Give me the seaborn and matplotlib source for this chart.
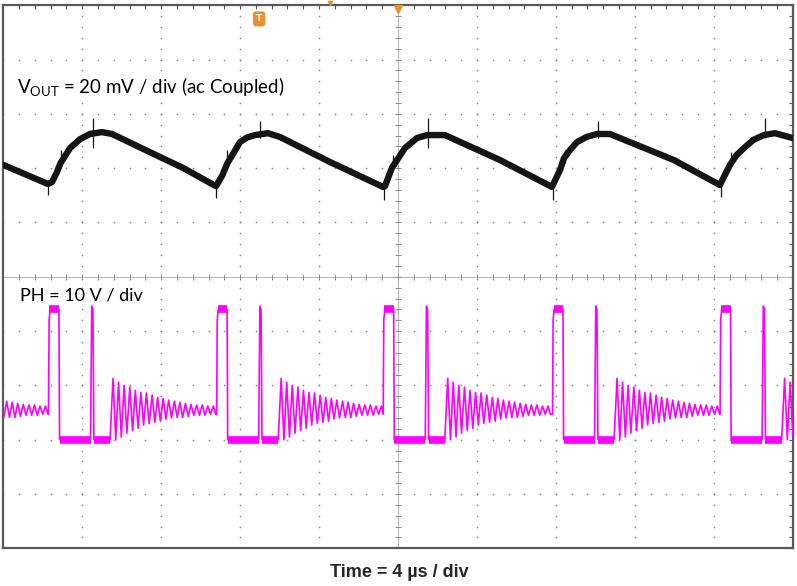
import matplotlib.pyplot as plt
import seaborn as sns
import numpy as np

# VOUT trace (ac coupled): time in us, voltage in mV
vout_t = [0.00, 2.26, 2.47, 2.72, 2.90, 3.13, 3.38, 3.89, 4.39, 5.00, 5.51, 7.43, 9.11,
          10.57, 10.78, 11.08, 11.36, 11.70, 11.99, 12.35, 12.75, 13.41, 14.02, 16.55,
          19.24, 19.34, 19.69, 20.35, 20.96, 21.47, 22.38, 25.17,
          27.80, 28.21, 28.41, 28.75, 29.07, 29.55, 30.08, 30.74, 31.75, 33.98,
          36.31, 36.82, 37.15, 37.53, 38.00, 38.54, 39.10, 40.00]
vout_mv = [-1.8, -8.8, -8.1, -4.4, -1.1, 1.5, 4.4, 7.7, 9.6, 10.3, 9.6, 2.9, -2.9,
           -8.8, -9.6, -5.9, -1.1, 3.0, 6.6, 8.3, 9.2, 9.9, 8.5, -0.7,
           -9.9, -9.6, -2.9, 4.4, 8.1, 9.2, 9.2, 0.0,
           -9.9, -3.7, 0.7, 4.0, 6.6, 8.5, 9.6, 9.6, 6.6, 0.0,
           -9.2, -1.8, 1.8, 4.4, 7.4, 9.2, 9.9, 8.1]

# switching spikes on VOUT
spike_t = [2.26, 2.90, 4.57, 10.80, 11.36, 13.03, 19.29, 19.75, 21.52,
           27.85, 28.44, 30.11, 36.37, 36.87, 38.59]
spike_lo = [-12.9, -2.0, 4.4, -14.0, -1.5, 8.0, -14.7, -2.0, 4.4,
            -14.7, -1.0, 8.0, -13.6, -1.5, 8.0]
spike_hi = [-8.0, 3.7, 15.5, -9.0, 3.7, 14.4, -9.0, 1.8, 15.5,
            -9.0, 3.7, 14.4, -9.0, 2.9, 15.5]

# PH node: rising edge times (us) of each switching cycle
ph_rise_us = [-6.21, 2.29, 10.81, 19.25, 27.83, 36.32]

# one switching cycle, offsets from the rising edge (us) and volts
pulse_off = [0.00, 0.03, 0.08, 0.53, 0.56, 2.13, 2.19, 2.25, 2.27, 2.30, 3.12]
pulse_v = [4.7, 22.0, 24.0, 24.0, 0.0, 0.0, 24.6, 24.0, 13.4, 0.0, 0.0]
ring_peak_off = [3.27, 3.55, 3.83, 4.12, 4.40, 4.68, 4.96, 5.25, 5.53, 5.81,
                 6.09, 6.38, 6.66, 6.94, 7.22, 7.51, 7.79, 8.07, 8.35]
ring_peak_v = [11.3, 10.6, 10.0, 9.7, 9.1, 8.7, 8.6, 8.2, 7.8, 7.6,
               7.3, 7.1, 6.9, 6.7, 6.5, 6.4, 6.4, 6.2, 6.2]
ring_trough_off = [3.41, 3.69, 3.97, 4.26, 4.54, 4.82, 5.10, 5.39, 5.67, 5.95,
                   6.23, 6.52, 6.80, 7.08, 7.36, 7.65, 7.93, 8.21, 8.47]
ring_trough_v = [0.0, 0.5, 1.2, 1.7, 2.1, 2.7, 3.0, 3.2, 3.4, 3.8,
                 4.0, 4.1, 4.1, 4.3, 4.5, 4.5, 4.5, 4.7, 4.7]
# flat (noisy) levels within a cycle
band_start = [0.05, 0.56, 2.30]
band_end = [0.53, 2.13, 3.12]
band_v = [24.0, 0.0, 0.0]

# scope settings
VOUT_MV_DIV = 20
PH_V_DIV = 10
VOUT_POS = 7.15
PH_POS = 2.0

sns.set_style('white')
plt.rcParams['font.family'] = ['Lato', 'DejaVu Sans']
plt.rcParams['mathtext.fontset'] = 'custom'
plt.rcParams['mathtext.rm'] = 'Lato'

fig = plt.figure(figsize=(7.97, 5.86), dpi=100)
ax = fig.add_axes([3.3 / 797, 1 - 548.3 / 586, 789.4 / 797, 543 / 586])
ax.set_xlim(0, 40)
ax.set_ylim(0, 10)

# graticule
minor_y = np.arange(0, 10.01, 0.2)
minor_x = np.arange(0, 40.01, 0.8)
for k in range(1, 10):
    if k == 5:
        continue
    ax.scatter(np.full(len(minor_y), k * 4), minor_y, s=1.5, color='#8a8a8a', lw=0, zorder=1)
    ax.scatter(minor_x, np.full(len(minor_x), k), s=1.5, color='#8a8a8a', lw=0, zorder=1)
ax.axvline(20, color='#b5b5b5', lw=0.7, zorder=1)
ax.axhline(5, color='#b5b5b5', lw=0.7, zorder=1)
ax.plot(np.full(len(minor_y), 20), minor_y, ls='none', marker='_', ms=5, mew=0.7, color='#8a8a8a', zorder=1)
ax.plot(minor_x, np.full(len(minor_x), 5), ls='none', marker='|', ms=5, mew=0.7, color='#8a8a8a', zorder=1)

ax.set_xticks(minor_x)
ax.set_yticks(minor_y)
ax.tick_params(direction='in', length=3, width=0.8, color='#555555', top=True, right=True,
               labelbottom=False, labelleft=False)
ax.set_xlabel('')
ax.set_ylabel('')
for sp in ax.spines.values():
    sp.set_color('#5a5a5a')
    sp.set_linewidth(1.6)

# VOUT trace
vout_y = [VOUT_POS + v / VOUT_MV_DIV for v in vout_mv]
sns.lineplot(x=vout_t, y=vout_y, ax=ax, color='#151515', lw=4.6, sort=False, estimator=None, zorder=3)
ax.vlines(spike_t, [VOUT_POS + v / VOUT_MV_DIV for v in spike_lo],
          [VOUT_POS + v / VOUT_MV_DIV for v in spike_hi], color='#151515', lw=0.9, zorder=3)

# PH trace built from the cycle shape at each rising edge
ring_off = [o for pair in zip(ring_peak_off, ring_trough_off) for o in pair]
ring_v = [v for pair in zip(ring_peak_v, ring_trough_v) for v in pair]
cyc_off = pulse_off + ring_off
cyc_v = pulse_v + ring_v
ph_t, ph_y = [], []
for i, r in enumerate(ph_rise_us):
    nxt = ph_rise_us[i + 1] if i + 1 < len(ph_rise_us) else 99
    for o, v in zip(cyc_off, cyc_v):
        if r + o < nxt:
            ph_t.append(r + o)
            ph_y.append(PH_POS + v / PH_V_DIV)
    for s, e, v in zip(band_start, band_end, band_v):
        ax.hlines(PH_POS + v / PH_V_DIV, r + s, min(r + e, nxt), color='#ff00ff', lw=5.5,
                  capstyle='butt', zorder=3)
sns.lineplot(x=ph_t, y=ph_y, ax=ax, color='#ff00ff', lw=1.2, sort=False, estimator=None, zorder=3)

# trigger markers
ax.text(12.96, 9.75, 'T', color='white', fontsize=6.5, fontweight='bold', ha='center', va='center',
        family='DejaVu Sans', bbox=dict(boxstyle='round,pad=0.25', fc='#f28c28', ec='#f28c28'), zorder=5)
ax.plot([20], [9.93], marker='v', ms=6, color='#f28c28', clip_on=False, zorder=5)
ax.plot([16.55], [10.04], marker='v', ms=3, color='#f28c28', clip_on=False, zorder=5)

# labels
ax.text(0.69, 8.37, r'V$_{\mathrm{OUT}}$ = 20 mV / div (ac Coupled)', fontsize=13.5,
        ha='left', va='baseline', color='black', zorder=4)
ax.text(0.85, 4.57, 'PH = 10 V / div', fontsize=13, ha='left', va='baseline', color='black', zorder=4)
fig.text(399 / 797, 1 - 577 / 586, 'Time = 4 µs / div', fontsize=13, fontweight='bold',
         family=['Liberation Sans', 'DejaVu Sans'], ha='center', va='baseline')

fig.savefig('out.png', dpi=100)
